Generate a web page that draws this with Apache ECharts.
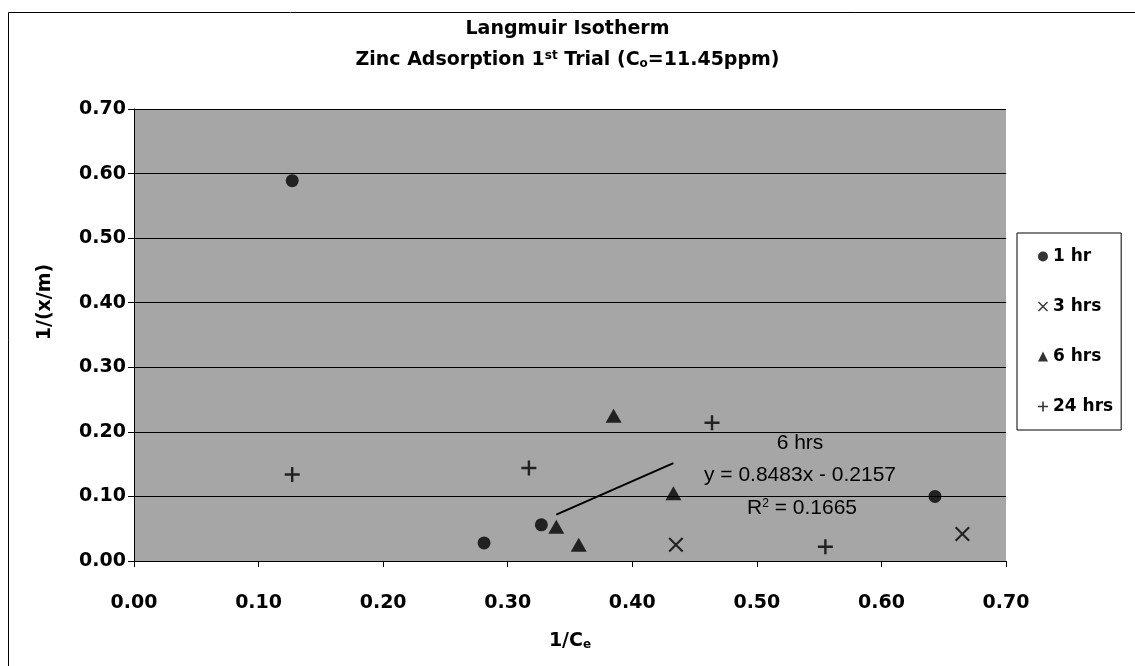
<!DOCTYPE html>
<html>
<head>
<meta charset="utf-8">
<script src="https://cdn.jsdelivr.net/npm/echarts@6/dist/echarts.min.js"></script>
<style>
html,body{margin:0;padding:0;background:#fff;}
#c{width:1135px;height:666px;}
</style>
</head>
<body>
<div id="c"></div>
<script>
// ---- data ----
var seriesNames = ['1 hr', '3 hrs', '6 hrs', '24 hrs'];
var hr1 = [[0.127, 0.589], [0.281, 0.028], [0.327, 0.056], [0.643, 0.100]];
var hr3 = [[0.435, 0.025], [0.665, 0.042]];
var hr6 = [[0.385, 0.225], [0.433, 0.105], [0.339, 0.053], [0.357, 0.025]];
var hr24 = [[0.127, 0.134], [0.317, 0.144], [0.464, 0.214], [0.555, 0.022]];
var trendSlope = 0.8483;
var trendIntercept = -0.2157;
var trendR2 = 0.1665;
var axisTicks = [0, 0.1, 0.2, 0.3, 0.4, 0.5, 0.6, 0.7];

// trendline over the range of the 6 hrs data
var xs6 = hr6.map(function (p) { return p[0]; });
var tMin = Math.min.apply(null, xs6), tMax = Math.max.apply(null, xs6);
var trend = [[tMin, trendSlope * tMin + trendIntercept], [tMax, trendSlope * tMax + trendIntercept]];

var FONT = 'DejaVu Sans';
var plusPath = 'path://M0,6.3H15V8.7H0Z M6.3,0H8.7V15H6.3Z';
var crossPath = 'path://M0,1.5L1.5,0L15,13.5L13.5,15Z M13.5,0L15,1.5L1.5,15L0,13.5Z';

var chart = echarts.init(document.getElementById('c'), null, {renderer: 'canvas'});
var axisCommon = {
  type: 'value', min: axisTicks[0], max: axisTicks[axisTicks.length - 1], interval: 0.1,
  axisLine: {show: true, lineStyle: {color: '#000', width: 1}},
  axisTick: {show: true, inside: false, length: 6, lineStyle: {color: '#000'}},
  axisLabel: {color: '#000', fontFamily: FONT, fontWeight: 'bold', fontSize: 19,
    formatter: function (v) { return v.toFixed(2); }}
};
chart.setOption({
  backgroundColor: '#fff',
  animation: false,
  title: [{
    text: 'Langmuir Isotherm', left: 'center', top: 15,
    textStyle: {fontFamily: FONT, fontWeight: 'bold', fontSize: 19, color: '#000'}
  }, {
    text: '{b|Zinc Adsorption 1}{sup|st}{b| Trial (C}{sub|o}{b|=11.45ppm)}',
    left: 'center', top: 45,
    textStyle: {
      rich: {
        b: {fontFamily: FONT, fontWeight: 'bold', fontSize: 19, color: '#000'},
        sup: {fontFamily: FONT, fontWeight: 'bold', fontSize: 12, color: '#000', verticalAlign: 'top', padding: [0, 0, 8, 0]},
        sub: {fontFamily: FONT, fontWeight: 'bold', fontSize: 12, color: '#000', verticalAlign: 'bottom', padding: [8, 0, 0, 0]}
      }
    }
  }],
  grid: {left: 134, right: 129, top: 109, bottom: 105, show: true, backgroundColor: '#a6a6a6', borderWidth: 0},
  xAxis: Object.assign({}, axisCommon, {
    splitLine: {show: false},
    axisLabel: Object.assign({}, axisCommon.axisLabel, {margin: 33}),
    name: '{b|1/C}{s|e}', nameLocation: 'middle', nameGap: 70,
    nameTextStyle: {rich: {
      b: {fontFamily: FONT, fontWeight: 'bold', fontSize: 19, color: '#000'},
      s: {fontFamily: FONT, fontWeight: 'bold', fontSize: 12, color: '#000', verticalAlign: 'bottom', padding: [8, 0, 0, 0]}
    }}
  }),
  yAxis: Object.assign({}, axisCommon, {
    splitLine: {show: true, lineStyle: {color: '#000', width: 1}},
    axisLabel: Object.assign({}, axisCommon.axisLabel, {margin: 8})
  }),
  legend: {
    orient: 'vertical', left: 1017, top: 233,
    data: [
      {name: seriesNames[0], icon: 'circle'},
      {name: seriesNames[1], icon: crossPath},
      {name: seriesNames[2], icon: 'triangle'},
      {name: seriesNames[3], icon: plusPath}
    ],
    itemWidth: 10, itemHeight: 10, itemGap: 33,
    padding: [15, 8, 15, 21],
    borderColor: '#000', borderWidth: 1, backgroundColor: '#fff',
    textStyle: {fontFamily: FONT, fontWeight: 'bold', fontSize: 17, color: '#000'}
  },
  graphic: [
    {type: 'rect', shape: {x: 8.5, y: 12.5, width: 1200, height: 800}, style: {fill: 'none', stroke: '#000', lineWidth: 1}, silent: true, z: -10},
    {type: 'text', x: 45, y: 302, rotation: Math.PI / 2, style: {text: '1/(x/m)', fontFamily: FONT, fontWeight: 'bold', fontSize: 19, fill: '#000', align: 'center', verticalAlign: 'middle'}},
    {type: 'text', x: 800, y: 443, z: 20, style: {text: '6 hrs', fontFamily: 'Liberation Sans', fontSize: 21, fill: '#000', align: 'center', verticalAlign: 'middle'}},
    {type: 'text', x: 800, y: 475, z: 20, style: {text: 'y = ' + trendSlope.toFixed(4) + 'x - ' + Math.abs(trendIntercept).toFixed(4), fontFamily: 'Liberation Sans', fontSize: 21, fill: '#000', align: 'center', verticalAlign: 'middle'}},
    {type: 'text', x: 802, y: 508, z: 20, style: {rich: {a: {fontFamily: 'Liberation Sans', fontSize: 21, fill: '#000'}, s: {fontFamily: 'Liberation Sans', fontSize: 12, fill: '#000', verticalAlign: 'top', padding: [0, 0, 8, 0]}}, text: '{a|R}{s|2}{a| = ' + trendR2.toFixed(4) + '}', align: 'center', verticalAlign: 'middle'}}
  ],
  series: [
    {name: seriesNames[0], type: 'scatter', data: hr1, symbol: 'circle', symbolSize: 13, itemStyle: {color: '#000'}},
    {name: seriesNames[1], type: 'scatter', data: hr3, symbol: crossPath, symbolSize: 15, itemStyle: {color: '#000'}},
    {name: seriesNames[2], type: 'scatter', data: hr6, symbol: 'triangle', symbolSize: [16, 14], itemStyle: {color: '#000'}},
    {name: seriesNames[3], type: 'scatter', data: hr24, symbol: plusPath, symbolSize: 15, itemStyle: {color: '#000'}},
    {name: '6 hrs trend', type: 'line', data: trend, symbol: 'none', lineStyle: {color: '#000', width: 2}, z: 1}
  ]
});
</script>
</body>
</html>
